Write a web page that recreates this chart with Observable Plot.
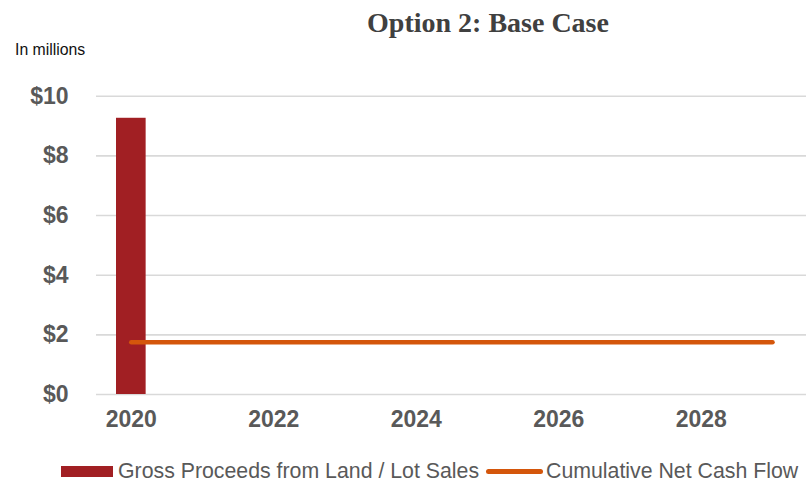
<!DOCTYPE html>
<html>
<head>
<meta charset="utf-8">
<script src="https://cdn.jsdelivr.net/npm/d3@7"></script>
<script src="https://cdn.jsdelivr.net/npm/@observablehq/plot@0.6"></script>
<style>
  html, body { margin: 0; padding: 0; background: #fff; }
  #wrap { position: relative; width: 806px; height: 482px; overflow: hidden; }
  #chart { position: absolute; left: 0; top: 0; }
  .title { position: absolute; left: 0; width: 976px; top: 8.5px; text-align: center;
    font-family: "Liberation Serif", serif; font-weight: bold; font-size: 28px; line-height: 28px; color: #404040; white-space: nowrap; }
  .unit { position: absolute; left: 15px; top: 42px; font-family: "Liberation Sans", Arial, sans-serif;
    font-size: 15.8px; line-height: 15.8px; color: #111; }
  .legend { position: absolute; left: 61px; top: 461px; display: flex; align-items: center;
    font-family: "Liberation Sans", Arial, sans-serif; font-size: 21.3px; line-height: 21px; color: #595959; white-space: nowrap; }
  .sw-bar { display: inline-block; width: 52px; height: 11px; margin-right: 5px; }
  .sw-line { display: inline-block; width: 57px; height: 5px; border-radius: 3px; margin-left: 7px; margin-right: 3px; }
</style>
</head>
<body>
<div id="wrap">
  <div id="chart"></div>
  <div class="title">Option 2: Base Case</div>
  <div class="unit">In millions</div>
  <div class="legend" id="legend"></div>
</div>
<script>
// Data
const years = [2020, 2021, 2022, 2023, 2024, 2025, 2026, 2027, 2028, 2029];
const grossProceeds = [9.26, 0, 0, 0, 0, 0, 0, 0, 0, 0];
const cumulativeNetCashFlow = [1.75, 1.75, 1.75, 1.75, 1.75, 1.75, 1.75, 1.75, 1.75, 1.75];
const yTicks = [0, 2, 4, 6, 8, 10];
const xTicks = [2020, 2022, 2024, 2026, 2028];
const seriesNames = ["Gross Proceeds from Land / Lot Sales", "Cumulative Net Cash Flow"];
const colors = ["#A11F23", "#D4560B"];

const barData = years.map((year, i) => ({year, value: grossProceeds[i]})).filter(d => d.value > 0);
const lineData = years.map((year, i) => ({year, value: cumulativeNetCashFlow[i]}));

const chart = Plot.plot({
  width: 806,
  height: 482,
  marginLeft: 96,
  marginRight: 0,
  marginTop: 95.7,
  marginBottom: 88,
  style: {
    fontFamily: "'Liberation Sans', Arial, sans-serif",
    fontSize: "23px",
    fontWeight: "bold",
    color: "#595959",
    background: "transparent",
    overflow: "visible"
  },
  x: {domain: [2019.5, 2029.5], range: [95.2, 807.6]},
  y: {domain: [0, 10]},
  marks: [
    Plot.ruleY(yTicks, {stroke: "#d9d9d9", strokeWidth: 1.6}),
    Plot.rectY(barData, {
      x1: d => d.year - 0.208,
      x2: d => d.year + 0.208,
      y: "value",
      fill: colors[0]
    }),
    Plot.lineY(lineData, {
      x: "year",
      y: "value",
      stroke: colors[1],
      strokeWidth: 4.6,
      strokeLinecap: "round"
    }),
    Plot.axisY({ticks: yTicks, tickFormat: d => "$" + d, tickSize: 0, tickPadding: 28, label: null}),
    Plot.axisX({ticks: xTicks, tickFormat: d => String(d), tickSize: 0, tickPadding: 16, label: null})
  ]
});
document.getElementById("chart").appendChild(chart);

// Legend
const legend = document.getElementById("legend");
legend.innerHTML =
  `<span class="sw-bar" style="background:${colors[0]}"></span><span>${seriesNames[0]}</span>` +
  `<span class="sw-line" style="background:${colors[1]}"></span><span>${seriesNames[1]}</span>`;
</script>
</body>
</html>
